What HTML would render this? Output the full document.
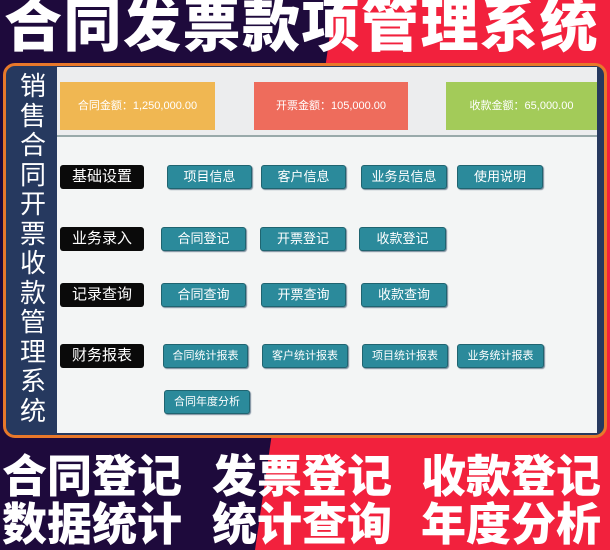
<!DOCTYPE html>
<html><head><meta charset="utf-8"><style>
*{margin:0;padding:0;box-sizing:border-box}
body{width:610px;height:550px;overflow:hidden;position:relative;font-family:"Liberation Sans","Noto Sans CJK SC",sans-serif;background:#1e0a3c}
.abs{position:absolute}
.big{color:#fff;font-weight:900;white-space:nowrap;letter-spacing:0}
.btn{position:absolute;background:#2b8a9b;color:#fff;font-size:13px;text-align:center;border-radius:3px;border:1px solid #1f6470;box-shadow:1px 1px 1px #789;height:24px;line-height:22px}
.lab{position:absolute;left:60px;width:84px;height:24px;background:#0a0a0a;color:#fff;font-size:15px;line-height:24px;text-align:center;border-radius:3px}
.card{position:absolute;top:82px;height:48px;color:#fff;font-size:11px;line-height:48px;text-align:center}
.b2{position:absolute;color:#fff;font-weight:900;white-space:nowrap;font-size:45px;line-height:50px}
</style></head><body>
<svg class="abs" style="left:0;top:0" width="610" height="550"><polygon points="335,0 610,0 610,550 255,550" fill="#f2213d"/></svg>
<div class="abs big" style="left:4px;top:-8px;font-size:58px;line-height:70px;letter-spacing:1.5px">合同发票款项管理系统</div>
<div class="abs" style="left:3px;top:63px;width:604px;height:375px;border:3px solid #e8782a;border-radius:12px;background:#26395f"></div>
<div class="abs" style="left:12px;top:72px;width:42px;color:#fff;font-size:26px;line-height:29.5px;text-align:center">销售合同开票收款管理系统</div>
<div class="abs" style="left:57px;top:67px;width:540px;height:366px;background:#f3f5f5"></div>
<div class="abs" style="left:57px;top:67px;width:540px;height:70px;background:#ecedee;border-bottom:2px solid #9aa"></div>
<div class="card" style="left:60px;width:155px;background:#f0b752">合同金额：1,250,000.00</div>
<div class="card" style="left:254px;width:154px;background:#ee6c5c">开票金额：105,000.00</div>
<div class="card" style="left:446px;width:151px;background:#a3cb59">收款金额：65,000.00</div>
<div class="lab" style="top:165px">基础设置</div>
<div class="lab" style="top:227px">业务录入</div>
<div class="lab" style="top:283px">记录查询</div>
<div class="lab" style="top:344px">财务报表</div>
<div class="btn" style="left:167px;top:165px;width:85px">项目信息</div>
<div class="btn" style="left:261px;top:165px;width:85px">客户信息</div>
<div class="btn" style="left:361px;top:165px;width:86px">业务员信息</div>
<div class="btn" style="left:457px;top:165px;width:86px">使用说明</div>
<div class="btn" style="left:161px;top:227px;width:85px">合同登记</div>
<div class="btn" style="left:260px;top:227px;width:86px">开票登记</div>
<div class="btn" style="left:359px;top:227px;width:87px">收款登记</div>
<div class="btn" style="left:161px;top:283px;width:85px">合同查询</div>
<div class="btn" style="left:261px;top:283px;width:85px">开票查询</div>
<div class="btn" style="left:361px;top:283px;width:86px">收款查询</div>
<div class="btn" style="left:163px;top:344px;width:85px;font-size:11px">合同统计报表</div>
<div class="btn" style="left:262px;top:344px;width:86px;font-size:11px">客户统计报表</div>
<div class="btn" style="left:362px;top:344px;width:86px;font-size:11px">项目统计报表</div>
<div class="btn" style="left:457px;top:344px;width:87px;font-size:11px">业务统计报表</div>
<div class="btn" style="left:164px;top:390px;width:86px;font-size:11px">合同年度分析</div>
<div class="b2" style="left:2px;top:452px">合同登记</div>
<div class="b2" style="left:212px;top:452px">发票登记</div>
<div class="b2" style="left:421px;top:452px">收款登记</div>
<div class="b2" style="left:2px;top:500px">数据统计</div>
<div class="b2" style="left:212px;top:500px">统计查询</div>
<div class="b2" style="left:421px;top:500px">年度分析</div>
</body></html>
